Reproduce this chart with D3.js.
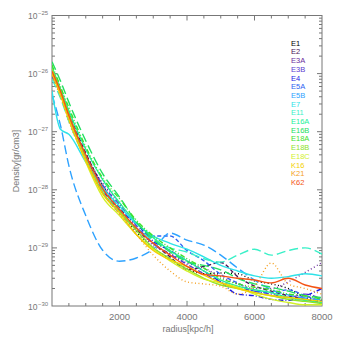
<!DOCTYPE html>
<html>
<head>
<meta charset="utf-8">
<script src="https://cdn.jsdelivr.net/npm/d3@7"></script>
<style>
  body { margin: 0; background: #fff; }
  text { font-family: "Liberation Sans", Arial, sans-serif; }
</style>
</head>
<body>
<script>
// radius grid [kpc/h]
const radius = [0, 250, 500, 1000, 1500, 2000, 2500, 3000, 3500, 4000, 4500, 5000, 5500, 6000, 6500, 7000, 7500, 8000];

// density profiles, in units of 1e-30 gr/cm3
const E1   = [9500, 4600, 1800, 420, 120, 44, 19, 10, 6.5, 4.4, 3.6, 3.7, 3.6, 2.7, 2.4, 2.0, 1.4, 1.25];
const E2   = [11000, 5200, 2100, 430, 115, 50, 21, 12, 7.0, 4.2, 4.8, 5.6, 3.2, 2.2, 1.8, 1.5, 1.3, 1.15];
const E3A  = [10500, 5000, 2000, 400, 130, 60, 22, 11, 8.0, 5.5, 4.5, 3.2, 2.4, 2.0, 2.0, 2.6, 3.8, 5.6];
const E3B  = [9000, 4400, 1750, 370, 120, 56, 24, 12, 7.8, 5.2, 3.6, 2.6, 2.1, 1.8, 1.6, 1.4, 1.6, 1.3];
const E4   = [9800, 4700, 1850, 380, 100, 45, 26, 13, 9.0, 6.0, 4.0, 2.6, 1.6, 1.5, 1.3, 1.25, 1.5, 2.0];
const E5A  = [10000, 4900, 1900, 360, 90, 40, 22, 16, 16, 9.0, 6.0, 3.5, 2.5, 1.8, 1.7, 1.9, 1.5, 1.2];
const E5B  = [4300, 1300, 260, 36, 9.1, 5.9, 6.7, 9.5, 18, 13.6, 11.2, 7.5, 4.5, 2.8, 1.9, 1.55, 1.37, 1.27];
const E7   = [5000, 1100, 900, 300, 110, 52, 26, 16, 12, 9.5, 7.0, 5.0, 4.0, 3.3, 3.0, 3.2, 3.6, 3.3];
const E11  = [8000, 3800, 1500, 330, 100, 46, 22, 13.6, 10, 8.5, 6.5, 5.7, 7.5, 9.5, 7.5, 9.0, 10, 7.8];
const E16A = [13000, 5500, 2300, 500, 150, 60, 27, 15, 9.0, 6.0, 4.0, 2.8, 2.2, 1.9, 1.7, 1.4, 1.25, 1.15];
const E16B = [16000, 7500, 3200, 700, 190, 75, 28, 14, 8.5, 5.8, 5.0, 4.2, 3.0, 2.4, 2.1, 1.8, 1.5, 1.4];
const E18A = [14000, 6000, 2600, 550, 160, 70, 30, 16, 10, 6.5, 4.5, 3.0, 2.4, 2.1, 1.9, 1.6, 1.5, 1.3];
const E18B = [12000, 5000, 2000, 350, 90, 42, 20, 10, 6.5, 4.3, 3.0, 2.3, 2.0, 1.7, 1.5, 1.3, 1.2, 1.1];
const E18C = [11000, 4500, 1700, 300, 75, 36, 17, 9.5, 6.0, 4.0, 2.9, 2.5, 2.1, 1.6, 1.3, 1.15, 1.05, 1.05];
const K16  = [10000, 4300, 1600, 320, 85, 40, 17, 9.0, 6.2, 4.8, 3.4, 2.5, 2.0, 1.7, 1.5, 1.4, 1.3, 1.2];
const K21  = [9000, 4000, 1500, 330, 90, 38, 17, 7.5, 4.0, 2.6, 2.4, 2.2, 1.6, 2.2, 5.5, 2.4, 2.0, 1.6];
const K62  = [11000, 5000, 1900, 400, 105, 46, 22, 12, 7.5, 4.8, 3.5, 3.3, 3.0, 2.8, 2.5, 3.0, 2.3, 2.0];

const names  = ["E1", "E2", "E3A", "E3B", "E4", "E5A", "E5B", "E7", "E11", "E16A", "E16B", "E18A", "E18B", "E18C", "K16", "K21", "K62"];
const values = [E1, E2, E3A, E3B, E4, E5A, E5B, E7, E11, E16A, E16B, E18A, E18B, E18C, K16, K21, K62];
const colors = ["#000000", "#4a1458", "#6a2c9c", "#5a3ad0", "#1c1ce6", "#2e62f2", "#2ea2ff", "#2ee2e8",
                "#3af0c8", "#22f09a", "#22e062", "#3ee22a", "#8ee22a", "#d2f02a", "#f4d000", "#f4a020", "#f45414"];
// IDL-like line styles
const dashes = ["1,2.5", "4,2.5", "1,2.5", "5,2,1,2", "5,2,1,2", "4,2.5", "9,4", null,
                "9,4", null, "9,4", "5,2,1,2,1,2", null, null, null, "1,2.5", null];

const yTicks = [-25, -26, -27, -28, -29, -30];
const xTicks = [2000, 4000, 6000, 8000];

const W = 340, H = 340;
const x0 = 52, x1 = 322, y0 = 306, y1 = 15.5;
const axisColor = "#777";

const svg = d3.select("body").append("svg")
  .attr("width", W)
  .attr("height", H);

const x = d3.scaleLinear().domain([0, 8000]).range([x0, x1]);
const y = d3.scaleLog().domain([1e-30, 1e-25]).range([y0, y1]);

// frame
svg.append("rect")
  .attr("x", x0).attr("y", y1)
  .attr("width", x1 - x0).attr("height", y0 - y1)
  .attr("fill", "none").attr("stroke", axisColor).attr("stroke-width", 1);

// x ticks, bottom and top (pointing inward)
const xMinor = d3.range(500, 8000, 500);
xMinor.forEach(v => {
  const len = v % 2000 === 0 ? 5 : 3;
  svg.append("line").attr("x1", x(v)).attr("x2", x(v)).attr("y1", y0).attr("y2", y0 - len)
    .attr("stroke", axisColor);
  svg.append("line").attr("x1", x(v)).attr("x2", x(v)).attr("y1", y1).attr("y2", y1 + len)
    .attr("stroke", axisColor);
});

// y ticks, log minor ticks, left and right
for (let e = -30; e < -25; e++) {
  for (let m = 1; m < 10; m++) {
    const v = m * Math.pow(10, e);
    if (m === 1 && e === -30) continue;
    const len = m === 1 ? 5 : 3;
    svg.append("line").attr("x1", x0).attr("x2", x0 + len).attr("y1", y(v)).attr("y2", y(v))
      .attr("stroke", axisColor);
    svg.append("line").attr("x1", x1).attr("x2", x1 - len).attr("y1", y(v)).attr("y2", y(v))
      .attr("stroke", axisColor);
  }
}

// y tick labels: 10^e
yTicks.forEach(e => {
  const t = svg.append("text")
    .attr("x", 28).attr("y", y(Math.pow(10, e)) + 3.5)
    .attr("fill", axisColor)
    .style("font-size", "8.5px");
  t.append("tspan").text("10");
  t.append("tspan").attr("dy", -4).attr("dx", 0.5).style("font-size", "6px").text("\u2212" + (-e));
});

// x tick labels
xTicks.forEach(v => {
  svg.append("text")
    .attr("x", x(v)).attr("y", 320)
    .attr("text-anchor", "middle")
    .attr("fill", axisColor)
    .style("font-size", "9.5px")
    .text(v);
});

// axis titles
svg.append("text")
  .attr("x", 188).attr("y", 332)
  .attr("text-anchor", "middle")
  .attr("fill", axisColor)
  .style("font-size", "9px")
  .text("radius[kpc/h]");

svg.append("text")
  .attr("transform", "translate(19,161) rotate(-90)")
  .attr("text-anchor", "middle")
  .attr("fill", axisColor)
  .style("font-size", "9px")
  .text("Density[gr/cm3]");

// profiles
const line = d3.line()
  .x(d => x(d[0]))
  .y(d => y(d[1] * 1e-30))
  .curve(d3.curveMonotoneX);

svg.append("defs").append("clipPath").attr("id", "plotClip")
  .append("rect").attr("x", x0).attr("y", y1).attr("width", x1 - x0).attr("height", y0 - y1);

const g = svg.append("g").attr("clip-path", "url(#plotClip)");
values.forEach((vals, i) => {
  g.append("path")
    .datum(radius.map((r, k) => [r, vals[k]]))
    .attr("d", line)
    .attr("fill", "none")
    .attr("stroke", colors[i])
    .attr("stroke-width", 1.4)
    .attr("stroke-dasharray", dashes[i]);
});

// legend
names.forEach((n, i) => {
  svg.append("text")
    .attr("x", 291).attr("y", 45.7 + i * 8.7)
    .attr("fill", colors[i])
    .style("font-size", "7.5px")
    .text(n);
});
</script>
</body>
</html>
